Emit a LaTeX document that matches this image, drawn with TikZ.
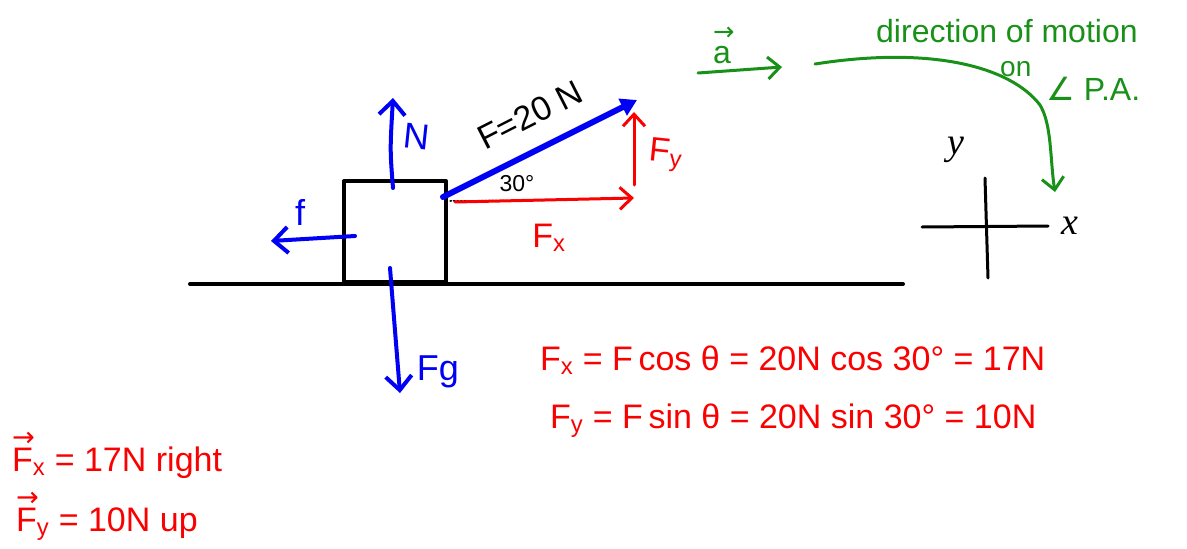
\documentclass[tikz,border=0pt]{standalone}
\usepackage{fontspec}
\setmainfont{Liberation Sans}
\newfontfamily\symfont{DejaVu Sans}
\newfontfamily\axisfont{Liberation Serif}
\usetikzlibrary{arrows.meta}
\definecolor{penblue}{RGB}{0,0,245}
\definecolor{penred}{RGB}{250,0,0}
\definecolor{pengreen}{RGB}{25,145,25}
\newcommand{\arrowon}[1]{\makebox[0pt][l]{\raisebox{0.72em}{\scalebox{0.8}{\symfont →}}}#1}
\begin{document}
\begin{tikzpicture}[
x=1pt,y=-1pt,
line cap=round,line join=round,
solid line/.style={draw=black,line width=4pt},
blue pen/.style={draw=penblue,line width=4pt,-{Straight Barb[length=14pt,width=26pt]}},
red pen/.style={draw=penred,line width=3pt,-{Straight Barb[length=12pt,width=22pt]}},
green pen/.style={draw=pengreen,line width=3pt,-{Straight Barb[length=12pt,width=22pt]}},
blue label/.style={text=penblue,font=\fontsize{36}{40}\selectfont,inner sep=0pt},
red label/.style={text=penred,font=\fontsize{34}{40}\selectfont,inner sep=0pt},
green label/.style={text=pengreen,font=\fontsize{32}{38}\selectfont,inner sep=0pt},
every node/.style={inner sep=0pt}
]
\useasboundingbox (0,0) rectangle (1187,549);

% ground and block
\coordinate (groundL) at (190,284);
\coordinate (groundR) at (903,284);
\draw[solid line] (groundL) -- (groundR);
\node[draw,line width=4pt,minimum width=102pt,minimum height=101pt] (block) at (395,231.5) {};

% forces on the block
\coordinate (Nfoot) at (393,188);
\coordinate (Ntip) at (393,98);
\draw[blue pen] (Nfoot) .. controls (390,150) .. (Ntip);
\node[blue label,rotate=-6] (Nlab) at (417,137) {N};

\coordinate (ffoot) at (355,236);
\coordinate (ftip) at (271,241);
\draw[blue pen] (ffoot) -- (ftip);
\node[blue label] (flab) at (300,212) {f};

\coordinate (gfoot) at (390,268);
\coordinate (gtip) at (400,393);
\draw[blue pen] (gfoot) -- (gtip);
\node[blue label] (glab) at (438,372) {Fg};

% applied force and components
\coordinate (Fstart) at (443,197);
\coordinate (Ftip) at (637,100);
\draw[draw=penblue,line width=6pt,-{Triangle[length=16pt,width=18pt]}] (Fstart) -- (Ftip);
\node[rotate=27,font=\fontsize{34}{40}\selectfont] (Flab) at (530,115) {F=20 N};

\coordinate (dotend) at (576,200);
\draw[black,line width=1.5pt,dotted] (450,201) -- (dotend);
\node[font=\fontsize{23}{28}\selectfont] (angle) at (517,184) {30°};

\coordinate (xfoot) at (455,202);
\coordinate (xtip) at (634,198);
\draw[red pen] (xfoot) -- (xtip);
\node[red label] (xlab) at (549,238) {F\textsubscript{x}};

\coordinate (yfoot) at (634,185);
\coordinate (ytip) at (634,112);
\draw[red pen] (yfoot) -- (ytip);
\node[red label,rotate=-6] (ylab) at (666,155) {F\textsubscript{y}};

% acceleration and note
\coordinate (afoot) at (698,73);
\coordinate (atip) at (782,67);
\draw[green pen] (afoot) -- (atip);
\node[green label] (alab) at (722,45) {\arrowon{a}};
\node[green label,anchor=base west] (motion) at (876,42) {direction of motion};
\node[green label,anchor=base west,font=\fontsize{28}{32}\selectfont] (onword) at (1000,76) {on};
\node[green label,anchor=base west] (pa) at (1046,100) {{\symfont ∠} P.A.};
\coordinate (cstart) at (815,64);
\coordinate (ctip) at (1055,192);
\draw[green pen] (cstart) .. controls (930,46) and (1010,66) .. (1040,105)
  .. controls (1052,125) and (1050,160) .. (ctip);

% axes
\coordinate (axL) at (922,227);
\coordinate (axR) at (1048,226);
\coordinate (axT) at (985,178);
\coordinate (axB) at (988,278);
\draw[black,line width=3pt] (axL) -- (axR);
\draw[black,line width=3pt] (axT) -- (axB);
\node[font=\axisfont\itshape\fontsize{38}{42}\selectfont] (ylabel) at (956,150) {y};
\node[font=\axisfont\itshape\fontsize{38}{42}\selectfont] (xlabel) at (1070,226) {x};

% working
\node[red label,anchor=base west] (eqx) at (540,370) {F\textsubscript{x} = F\,cos θ = 20N cos 30° = 17N};
\node[red label,anchor=base west] (eqy) at (550,428) {F\textsubscript{y} = F\,sin θ = 20N sin 30° = 10N};
\node[red label,anchor=base west] (resx) at (12,471) {\arrowon{F}\textsubscript{x} = 17N right};
\node[red label,anchor=base west] (resy) at (16,531) {\arrowon{F}\textsubscript{y} = 10N up};
\end{tikzpicture}
\end{document}
